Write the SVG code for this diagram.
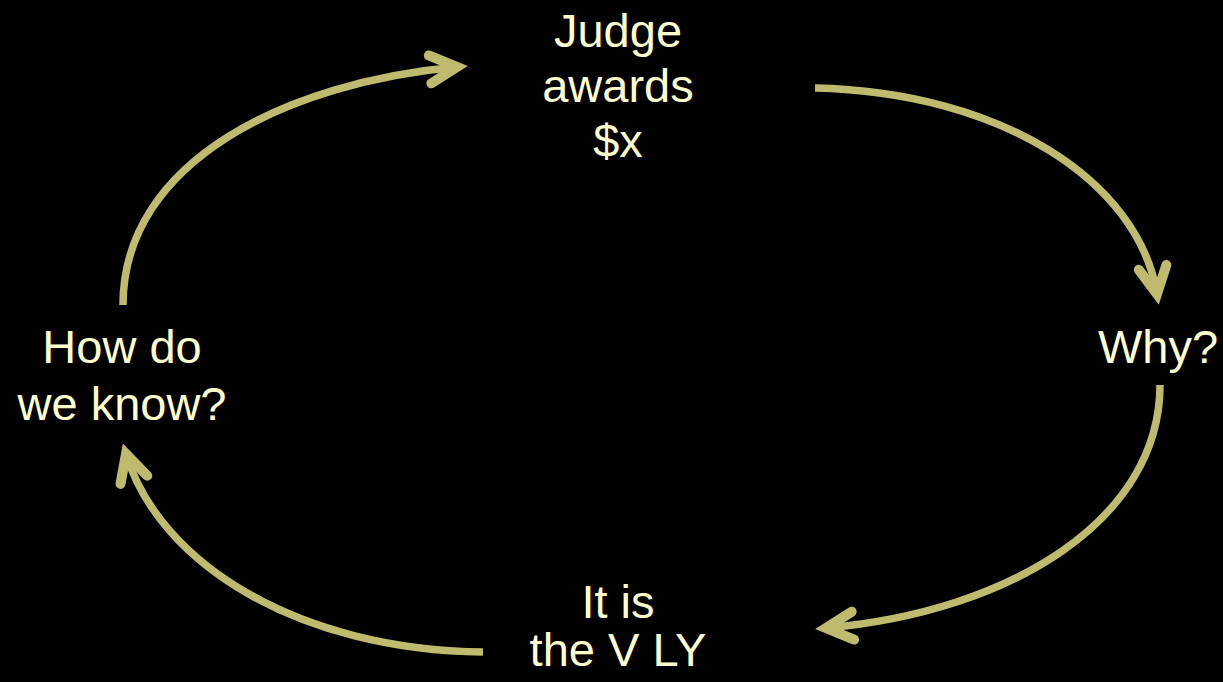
<svg xmlns="http://www.w3.org/2000/svg" width="1223" height="682" viewBox="0 0 1223 682">
<defs>
<style>
.lbl{font-family:"Liberation Sans",Arial,sans-serif;font-size:47px;fill:#FFFFCC;text-anchor:middle}
.con{fill:none;stroke:#BEBA6E;stroke-width:7.5;stroke-linecap:butt}
</style>
<marker id="ah" markerUnits="userSpaceOnUse" viewBox="-45 -25 60 50" markerWidth="60" markerHeight="50" refX="0" refY="0" orient="auto" overflow="visible">
<path d="M-27,-14 L0,0 L-27,14" fill="none" stroke="#BEBA6E" stroke-width="10" stroke-linecap="round" stroke-linejoin="miter" stroke-miterlimit="10"/>
</marker>
</defs>
<rect width="1223" height="682" fill="#000"/>
<g id="connectors">
<path class="con" d="M123,305 C123,160 290,82 457,67" marker-end="url(#ah)"/>
<path class="con" d="M815,88 C1000,92 1138,180 1157,294" marker-end="url(#ah)"/>
<path class="con" d="M1160,385 C1160,520 1010,612 826,628" marker-end="url(#ah)"/>
<path class="con" d="M483,652 C300,650 160,565 126,454" marker-end="url(#ah)"/>
</g>
<g id="judge"><text class="lbl" x="618" y="47">Judge</text><text class="lbl" x="618" y="102">awards</text><text class="lbl" x="618" y="157">$x</text></g>
<g id="why"><text class="lbl" x="1158" y="363">Why?</text></g>
<g id="vly"><text class="lbl" x="618" y="618">It is</text><text class="lbl" x="618" y="666">the V LY</text></g>
<g id="how"><text class="lbl" x="122" y="363">How do</text><text class="lbl" x="122" y="420">we know?</text></g>
</svg>
